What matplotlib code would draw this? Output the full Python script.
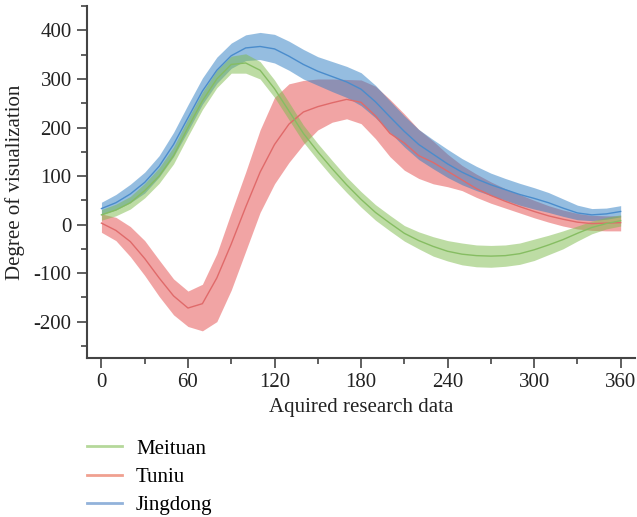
import matplotlib
matplotlib.use('Agg')
import matplotlib.pyplot as plt
from matplotlib.ticker import MultipleLocator

# data (x step of 10)
x = list(range(0, 361, 10))

meituan = [20, 30, 45, 70, 100, 142, 200, 255, 300, 330, 333, 318, 280, 234, 188, 150, 115, 82, 52,
           25, 3, -18, -33, -45, -55, -61, -64, -65, -64, -60, -52, -42, -31, -18, -6, 2, 8]
meituan_hi = [31, 42, 58, 85, 117, 160, 218, 273, 318, 347, 352, 336, 298, 252, 205, 167, 132, 98, 68,
              41, 19, -2, -15, -25, -33, -38, -42, -43, -42, -38, -30, -22, -13, -3, 7, 15, 20]
meituan_lo = [9, 18, 32, 55, 85, 125, 182, 237, 282, 312, 312, 300, 262, 216, 170, 133, 98, 66, 36,
              9, -13, -34, -50, -65, -75, -83, -87, -88, -86, -82, -74, -62, -50, -34, -19, -9, -3]

tuniu = [3, -12, -35, -70, -110, -147, -172, -163, -110, -40, 36, 108, 165, 207, 232, 243, 251, 258,
         252, 224, 188, 168, 142, 128, 110, 92, 74, 60, 48, 37, 27, 18, 11, 5, 2, 3, 4]
tuniu_hi = [22, 15, -4, -33, -73, -112, -137, -123, -60, 25, 108, 195, 262, 290, 297, 300, 300, 299,
            298, 285, 258, 228, 196, 172, 145, 122, 104, 88, 74, 62, 50, 39, 30, 23, 19, 18, 18]
tuniu_lo = [-16, -33, -66, -105, -148, -186, -210, -219, -200, -135, -55, 25, 84, 128, 165, 195, 211,
            218, 208, 177, 140, 112, 95, 84, 78, 70, 56, 44, 34, 24, 14, 5, -3, -9, -12, -13, -13]

jingdong = [33, 45, 63, 87, 120, 165, 220, 275, 318, 348, 364, 367, 362, 347, 330, 316, 305, 294, 279,
            253, 222, 192, 165, 145, 125, 108, 94, 82, 72, 62, 54, 45, 34, 24, 20, 22, 27]
jingdong_hi = [46, 62, 83, 108, 142, 190, 247, 302, 345, 374, 391, 396, 392, 378, 361, 346, 336, 326,
               313, 287, 255, 224, 196, 175, 155, 136, 120, 106, 95, 85, 76, 66, 53, 40, 33, 34, 39]
jingdong_lo = [20, 30, 45, 65, 98, 140, 193, 248, 291, 322, 338, 340, 333, 318, 300, 287, 274, 262,
               245, 220, 190, 160, 134, 115, 97, 82, 70, 60, 50, 40, 32, 25, 17, 10, 8, 11, 16]

plt.rcParams['font.family'] = ['Liberation Serif', 'DejaVu Serif']
plt.rcParams['font.size'] = 15
plt.rcParams['axes.unicode_minus'] = False

fig = plt.figure(figsize=(6.37, 5.17), dpi=100)
ax = fig.add_axes([0.1366, 0.3075, 0.8604, 0.6805])

# red at the bottom, blue over it, green on top
ax.fill_between(x, tuniu_lo, tuniu_hi, color='#e44b4b', alpha=0.5, lw=0)
ax.plot(x, tuniu, color='#e06a6a', lw=1, solid_joinstyle='round')
ax.fill_between(x, jingdong_lo, jingdong_hi, color='#2d7dc3', alpha=0.5, lw=0)
ax.plot(x, jingdong, color='#4a8ccc', lw=1, solid_joinstyle='round')
ax.fill_between(x, meituan_lo, meituan_hi, color='#7dba4b', alpha=0.5, lw=0)
ax.plot(x, meituan, color='#86bd62', lw=1, solid_joinstyle='round')

ax.set_xlim(-10, 370)
ax.set_ylim(-275, 450)
ax.xaxis.set_major_locator(MultipleLocator(60))
ax.xaxis.set_minor_locator(MultipleLocator(30))
ax.yaxis.set_major_locator(MultipleLocator(100))
ax.yaxis.set_minor_locator(MultipleLocator(50))
ax.set_yticks(range(-200, 401, 100))

for side in ('top', 'right'):
    ax.spines[side].set_visible(False)
for side in ('left', 'bottom'):
    ax.spines[side].set_color('#444444')
    ax.spines[side].set_linewidth(1.5)
ax.tick_params(which='major', length=7, width=1.2, color='#444444', labelcolor='#222222', pad=4)
ax.tick_params(which='minor', length=4, width=1.2, color='#444444')

ax.set_xlabel('Aquired research data', color='#222222', labelpad=4)
ax.set_ylabel('Degree of visualization', color='#222222', labelpad=6)

handles = [
    plt.Line2D([], [], color='#b5d89a', lw=2),
    plt.Line2D([], [], color='#f0a090', lw=2),
    plt.Line2D([], [], color='#92b2da', lw=2),
]
fig.legend(handles, ['Meituan', 'Tuniu', 'Jingdong'], loc='upper left',
           bbox_to_anchor=(0.1366, 0.151), frameon=False, handlelength=1.68,
           handletextpad=0.67, labelspacing=0.42, borderaxespad=0, borderpad=0)

fig.savefig('out.png', dpi=100)
